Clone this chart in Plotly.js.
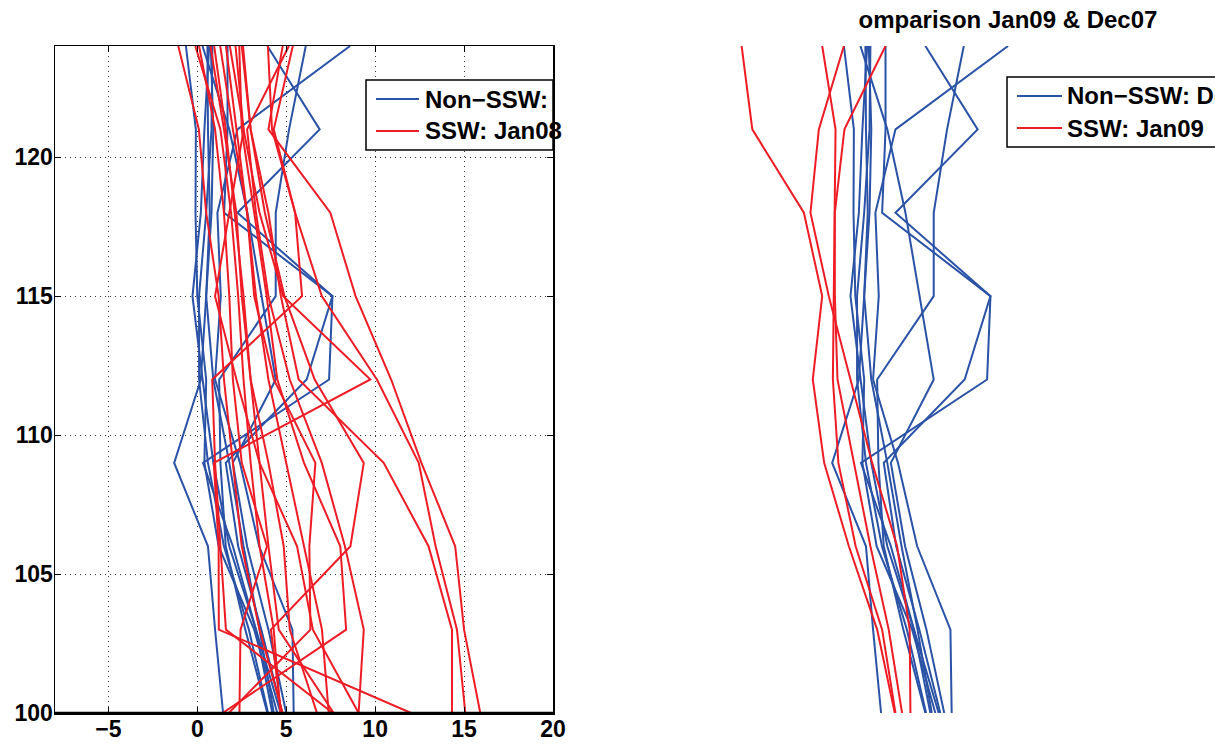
<!DOCTYPE html>
<html><head><meta charset="utf-8">
<script src="https://cdn.plot.ly/plotly-3.0.1.min.js"></script>
<style>html,body{margin:0;padding:0;background:#fff}#chart{width:1215px;height:744px}</style>
</head><body><div id="chart"></div>
<script>
// altitude levels (km) of every profile
const altitudes = [100, 103, 106, 109, 112, 115, 118, 121, 124];

// Non-SSW profiles (Dec07) - drawn in both panels; values at the altitudes above
const nonSswDec07 = [
  [5.42, 5.35, 3.48, 2.4, 1.0, 1.32, 1.13, 2.26, 8.59],
  [4.69, 3.3, 2.0, 0.32, 7.41, 7.60, 2.26, 6.88, 3.94],
  [3.94, 2.7, 1.6, 1.3, 1.23, 4.41, 4.41, 5.16, 6.10],
  [4.78, 3.6, 2.3, 1.6, 6.15, 7.60, 1.51, 1.70, 1.70],
  [1.45, 1.0, 0.6, -1.30, 0.2, 0.5, 0.7, 0.6, 0.57],
  [4.22, 3.3, 1.8, 0.9, 0.3, -0.27, 0.2, 0.4, 0.67],
  [4.3, 3.5, 2.6, 1.8, 0.9, 0.5, 0.8, 0.9, 0.76],
  [3.98, 2.9, 1.5, 0.6, 0.1, 0.1, 0.5, 0.8, 0.85],
  [4.5, 3.2, 1.2, 0.4, 0.5, 0.0, -0.1, -0.08, -0.64],
  [5.0, 4.0, 2.8, 2.0, 4.41, 3.63, 2.82, 1.8, 0.29]
];

// SSW profiles, Jan08 (left panel)
const sswJan08 = [
  [15.91, 15.0, 14.5, 12.6, 10.9, 8.9, 7.48, 4.0, 4.8],
  [14.32, 14.32, 13.0, 10.48, 5.7, 4.7, 4.0, 3.0, 2.5],
  [15.07, 14.6, 13.4, 12.45, 10.1, 7.0, 5.5, 4.3, 5.37],
  [12.02, 1.21, 1.2, 0.93, 9.73, 4.83, 3.5, 2.6, 2.15],
  [7.62, 1.61, 1.3, 1.0, 0.84, 5.89, 5.5, 4.2, 3.97],
  [4.72, 4.14, 8.61, 9.36, 6.6, 4.9, 3.8, 3.0, 2.57],
  [1.77, 6.36, 6.3, 6.64, 4.3, 3.2, 2.8, 2.2, 1.61],
  [1.43, 8.37, 8.04, 6.0, 4.5, 3.9, 3.2, 2.5, 2.36],
  [9.07, 9.36, 8.3, 7.0, 5.2, 4.0, 3.3, 2.8, 5.15],
  [7.39, 7.01, 6.0, 5.0, 4.0, 3.3, 2.8, 2.0, 1.29],
  [6.73, 5.2, 4.86, 4.0, 3.0, 2.5, 2.2, 1.5, 0.74],
  [2.37, 2.43, 3.92, 2.5, 2.0, 1.8, 1.5, 1.0, 0.1],
  [4.67, 4.3, 3.5, 3.0, 2.6, 2.3, 1.9, 1.3, -0.11],
  [7.67, 4.58, 4.0, 3.5, 3.0, 2.6, 2.1, 1.6, 0.95],
  [4.80, 3.5, 2.5, 2.0, 1.5, 1.2, 0.5, 0.09, -1.07],
  [9.07, 6.5, 5.61, 3.5, 2.2, 1.0, 1.8, 2.61, 1.83]
];

// SSW profiles, Jan09 (right panel)
const sswJan09 = [
  [2.22, 1.23, -0.36, -1.75, -2.39, -1.86, -2.89, -5.79, -6.39],
  [2.26, 1.51, 0.02, -0.95, -1.26, -1.21, -1.15, -1.11, -1.86],
  [3.10, 3.06, 2.35, 0.95, -0.27, -1.49, -2.52, -2.05, -0.64],
  [2.63, 1.88, 0.85, -0.08, -1.0, -1.15, -1.15, -0.61, 1.70]
];

const xTicks = [-5, 0, 5, 10, 15, 20];
const yTicks = [100, 105, 110, 115, 120];
const legendLeft = ['Non\u2212SSW:', 'SSW: Jan08'];
const legendRight = ['Non\u2212SSW: Dec07', 'SSW: Jan09'];
const rightTitle = 'omparison Jan09 & Dec07';

const BLUE = '#2a52a6', RED = '#ee1c25';
const FONT = 'Liberation Sans, Arial, Helvetica, sans-serif';
const W = 1215, H = 744, T = 46, B = 31;
const px = v => v / W;
const py = v => (H - B - v) / (H - T - B);

function prof(vals, color, xa, ya) {
  return {x: vals, y: altitudes, mode: 'lines', type: 'scatter',
    line: {color: color, width: 2}, xaxis: xa, yaxis: ya,
    hoverinfo: 'skip', showlegend: false, cliponaxis: true};
}
const traces = [];
nonSswDec07.forEach(p => traces.push(prof(p, BLUE, 'x', 'y')));
sswJan08.forEach(p => traces.push(prof(p, RED, 'x', 'y')));
nonSswDec07.forEach(p => traces.push(prof(p, BLUE, 'x2', 'y2')));
sswJan09.forEach(p => traces.push(prof(p, RED, 'x2', 'y2')));

const tickFont = {family: FONT, size: 23, color: '#000', weight: 700};
const axCommon = {showline: true, linecolor: '#000', linewidth: 1.5, mirror: 'ticks',
  ticks: 'inside', ticklen: 6, tickwidth: 1, tickcolor: '#000', zeroline: false,
  showgrid: true, gridcolor: '#333', gridwidth: 1, griddash: '1px,4px',
  tickfont: tickFont, fixedrange: true};

const shapes = [];
const annotations = [];
// heavier bottom axis line, as in the reference
shapes.push({type: 'line', xref: 'paper', yref: 'paper', x0: px(55), x1: px(553), y0: 0, y1: 0,
  line: {color: '#000', width: 2.5}, layer: 'above'});
function legend(x0, x1, y0, y1, lx0, lx1, yb, yr, tx, labels) {
  shapes.push({type: 'rect', xref: 'paper', yref: 'paper', x0: px(x0), x1: px(x1), y0: py(y1), y1: py(y0),
    line: {color: '#000', width: 1.5}, fillcolor: '#fff', layer: 'above'});
  shapes.push({type: 'line', xref: 'paper', yref: 'paper', x0: px(lx0), x1: px(lx1), y0: py(yb), y1: py(yb),
    line: {color: BLUE, width: 2}, layer: 'above'});
  shapes.push({type: 'line', xref: 'paper', yref: 'paper', x0: px(lx0), x1: px(lx1), y0: py(yr), y1: py(yr),
    line: {color: RED, width: 2}, layer: 'above'});
  [[labels[0], yb], [labels[1], yr]].forEach(([t, y]) => annotations.push({
    text: t, xref: 'paper', yref: 'paper', x: px(tx), y: py(y), xanchor: 'left', yanchor: 'middle',
    showarrow: false, borderpad: 0, font: {family: FONT, size: 24, color: '#000', weight: 700}}));
}
legend(366, 553, 80, 150, 376, 419, 99, 131, 424, legendLeft);
legend(1007, 1260, 77, 147, 1017, 1062, 96, 128, 1066, legendRight);

const layout = {
  width: W, height: H, paper_bgcolor: '#fff', plot_bgcolor: 'rgba(0,0,0,0)',
  margin: {l: 0, r: 0, t: T, b: B, pad: 0, autoexpand: false},
  showlegend: false,
  title: {text: rightTitle, x: px(1008), xanchor: 'center', y: 1 - 20 / H, yanchor: 'middle',
    font: {family: FONT, size: 24, color: '#000', weight: 700}},
  xaxis: Object.assign({}, axCommon, {domain: [px(55), px(553)], range: [-8, 20],
    tickvals: xTicks, ticktext: xTicks.map(v => v < 0 ? '\u2212' + Math.abs(v) : String(v)),
    anchor: 'y', ticklabelstandoff: -5}),
  yaxis: Object.assign({}, axCommon, {domain: [0, 1], range: [100, 124], tickvals: yTicks,
    anchor: 'x', ticklabelstandoff: -4}),
  xaxis2: {domain: [px(713), px(1211)], range: [-8, 20], visible: false, anchor: 'y2', fixedrange: true},
  yaxis2: {domain: [0, 1], range: [100, 124], visible: false, anchor: 'x2', fixedrange: true},
  shapes: shapes, annotations: annotations
};
Plotly.newPlot('chart', traces, layout, {staticPlot: true, displayModeBar: false});
</script></body></html>
